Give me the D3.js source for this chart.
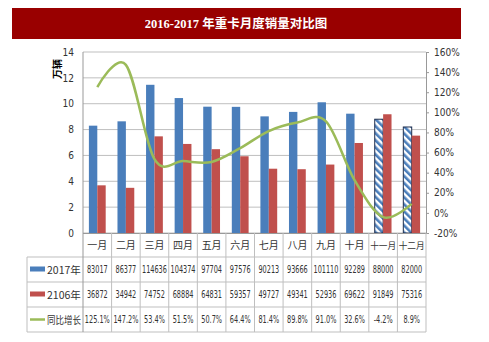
<!DOCTYPE html>
<html><head><meta charset="utf-8">
<script src="https://cdn.jsdelivr.net/npm/d3@7"></script>
<style>
html,body{margin:0;padding:0;background:#fff;}
svg{display:block;}
text{font-family:"Liberation Sans Narrow","DejaVu Sans Condensed","Noto Sans CJK SC",sans-serif;}
</style></head>
<body><svg id="c" width="489" height="342"></svg>
<script>
const title = "2016-2017 年重卡月度销量对比图";
const months = ["一月","二月","三月","四月","五月","六月","七月","八月","九月","十月","十一月","十二月"];
const seriesNames = ["2017年","2106年","同比增长"];
const sales2017 = [83017,86377,114636,104374,97704,97576,90213,93666,101110,92289,88000,82000];
const sales2016 = [36872,34942,74752,68884,64831,59357,49727,49341,52936,69622,91849,75316];
const growth = [125.1,147.2,53.4,51.5,50.7,64.4,81.4,89.8,91.0,32.6,-4.2,8.9];
const growthLabels = ["125.1%","147.2%","53.4%","51.5%","50.7%","64.4%","81.4%","89.8%","91.0%","32.6%","-4.2%","8.9%"];
const leftTicks = [0,2,4,6,8,10,12,14];
const rightTicks = [-20,0,20,40,60,80,100,120,140,160];
const forecastFrom = 10; // 十一月, 十二月 are hatched

const blue="#4A7EBB", red="#C0504D", green="#9BBB59", grid="#bfbfbf", tcol="#333";
const svg = d3.select("#c");
const L=83, R=426, T=52, B=233;

// title bar
svg.append("rect").attr("x",12).attr("y",8).attr("width",449).attr("height",31).attr("fill","#990000");
svg.append("text").attr("x",236).attr("y",28).attr("text-anchor","middle").attr("fill","#fff")
  .style("font-family","'Liberation Serif','Noto Sans CJK SC',serif").style("font-weight","bold").style("font-size","12.5px").text(title);

const x = d3.scaleBand().domain(months).range([L,R]).padding(0);
const bw = 8.4;
const xs = d3.scaleBand().domain([0,1]).range([x.bandwidth()/2-bw, x.bandwidth()/2+bw]).padding(0);
const yL = d3.scaleLinear().domain([0,14]).range([B,T]);
const yR = d3.scaleLinear().domain([-20,160]).range([B,T]);

// defs hatch
const defs = svg.append("defs");
const pat = defs.append("pattern").attr("id","hatch").attr("patternUnits","userSpaceOnUse")
  .attr("width",5).attr("height",5).attr("patternTransform","rotate(-45)");
pat.append("rect").attr("width",5).attr("height",5).attr("fill","#fff");
pat.append("rect").attr("width",2.6).attr("height",5).attr("fill",blue);

// gridlines
svg.append("g").selectAll("line").data(leftTicks).join("line")
  .attr("x1",L).attr("x2",R).attr("y1",d=>yL(d)).attr("y2",d=>yL(d))
  .attr("stroke",grid).attr("stroke-width",1);

// left axis
const ga = svg.append("g").attr("transform",`translate(${L},0)`)
  .call(d3.axisLeft(yL).tickValues(leftTicks).tickSize(0).tickPadding(9));
ga.select(".domain").remove();
ga.selectAll("text").style("font-size","10px").attr("fill",tcol);
// right axis
const gr = svg.append("g").attr("transform",`translate(${R},0)`)
  .call(d3.axisRight(yR).tickValues(rightTicks).tickSize(3).tickPadding(5).tickFormat(d=>d+"%"));
gr.select(".domain").attr("stroke","#999");
gr.selectAll("line").attr("stroke","#999");
gr.selectAll("text").style("font-size","10px").attr("fill",tcol);

// unit label
svg.append("text").attr("transform","translate(61,69) rotate(-90)").attr("text-anchor","middle")
  .style("font-size","10px").style("font-weight","bold").style("font-family","'Noto Sans CJK SC',sans-serif")
  .attr("fill","#000").text("万辆");

// bars
const g = svg.append("g");
months.forEach((m,i)=>{
  const hatched = i>=forecastFrom;
  g.append("rect").attr("x",x(m)+xs(0)).attr("width",xs.bandwidth())
    .attr("y",yL(sales2017[i]/10000)).attr("height",B-yL(sales2017[i]/10000))
    .attr("fill",hatched?"url(#hatch)":blue)
    .attr("stroke",hatched?"#1f2f4f":"none").attr("stroke-width",hatched?1:0);
  g.append("rect").attr("x",x(m)+xs(1)).attr("width",xs.bandwidth())
    .attr("y",yL(sales2016[i]/10000)).attr("height",B-yL(sales2016[i]/10000))
    .attr("fill",red);
});

// line
const line = d3.line().x((d,i)=>x(months[i])+x.bandwidth()/2).y(d=>yR(d)).curve(d3.curveCardinal.tension(0));
svg.append("path").datum(growth).attr("d",line).attr("fill","none").attr("stroke",green).attr("stroke-width",2.5);

// table
const rowsY=[B,257,282,307,332];
const tb = svg.append("g").attr("stroke",grid).attr("stroke-width",1);
tb.append("line").attr("x1",L).attr("x2",R).attr("y1",B+0.5).attr("y2",B+0.5).attr("stroke","#999");
[257,282,307,332].forEach(yy=>tb.append("line").attr("x1",27).attr("x2",R).attr("y1",yy).attr("y2",yy));
tb.append("line").attr("x1",27).attr("x2",27).attr("y1",257).attr("y2",332);
tb.append("line").attr("x1",L).attr("x2",L).attr("y1",T).attr("y2",332).attr("stroke","#999");
months.forEach(m=>tb.append("line").attr("x1",x(m)+x.bandwidth()).attr("x2",x(m)+x.bandwidth()).attr("y1",B).attr("y2",332));

// category labels
svg.append("g").selectAll("text").data(months).join("text")
  .attr("x",d=>x(d)+x.bandwidth()/2).attr("y",249).attr("text-anchor","middle")
  .style("font-size","10px").style("font-family","'Noto Sans CJK SC',sans-serif").attr("fill",tcol).text(d=>d)
  .each(function(){ const w=this.getComputedTextLength(); if(w>26) d3.select(this).style("font-size",(10*26/w).toFixed(2)+"px"); });

// data rows — uniform horizontal condensing so the widest value fits a cell
const rows=[sales2017.map(String), sales2016.map(String), growthLabels];
const cells=[];
rows.forEach((r,ri)=>{
  r.forEach((d,i)=>{
    const t=svg.append("text").attr("text-anchor","middle")
      .style("font-size","10.5px").attr("fill",tcol).text(d);
    cells.push({t, cx:x(months[i])+x.bandwidth()/2, cy:rowsY[ri+1]+16});
  });
});
const maxW=d3.max(cells,c=>c.t.node().getComputedTextLength());
const sx=Math.min(1,25/maxW);
cells.forEach(c=>c.t.attr("transform",`translate(${c.cx},${c.cy}) scale(${sx},1)`));

// legend column
const lc=[blue,red,green];
seriesNames.forEach((n,i)=>{
  const cy=(rowsY[i+1]+rowsY[i+2])/2;
  if(i<2) svg.append("rect").attr("x",30).attr("y",cy-3).attr("width",15).attr("height",5).attr("fill",lc[i]);
  else svg.append("line").attr("x1",30).attr("x2",45).attr("y1",cy).attr("y2",cy).attr("stroke",green).attr("stroke-width",2.5);
  const t=svg.append("text").style("font-size","10.5px")
    .style("font-family","'Liberation Sans Narrow','Noto Sans CJK SC',sans-serif").attr("fill",tcol).text(n);
  const w=t.node().getComputedTextLength();
  const s=Math.min(1,34/w);
  t.attr("transform",`translate(47,${cy+4}) scale(${s},1)`);
});
</script></body></html>
